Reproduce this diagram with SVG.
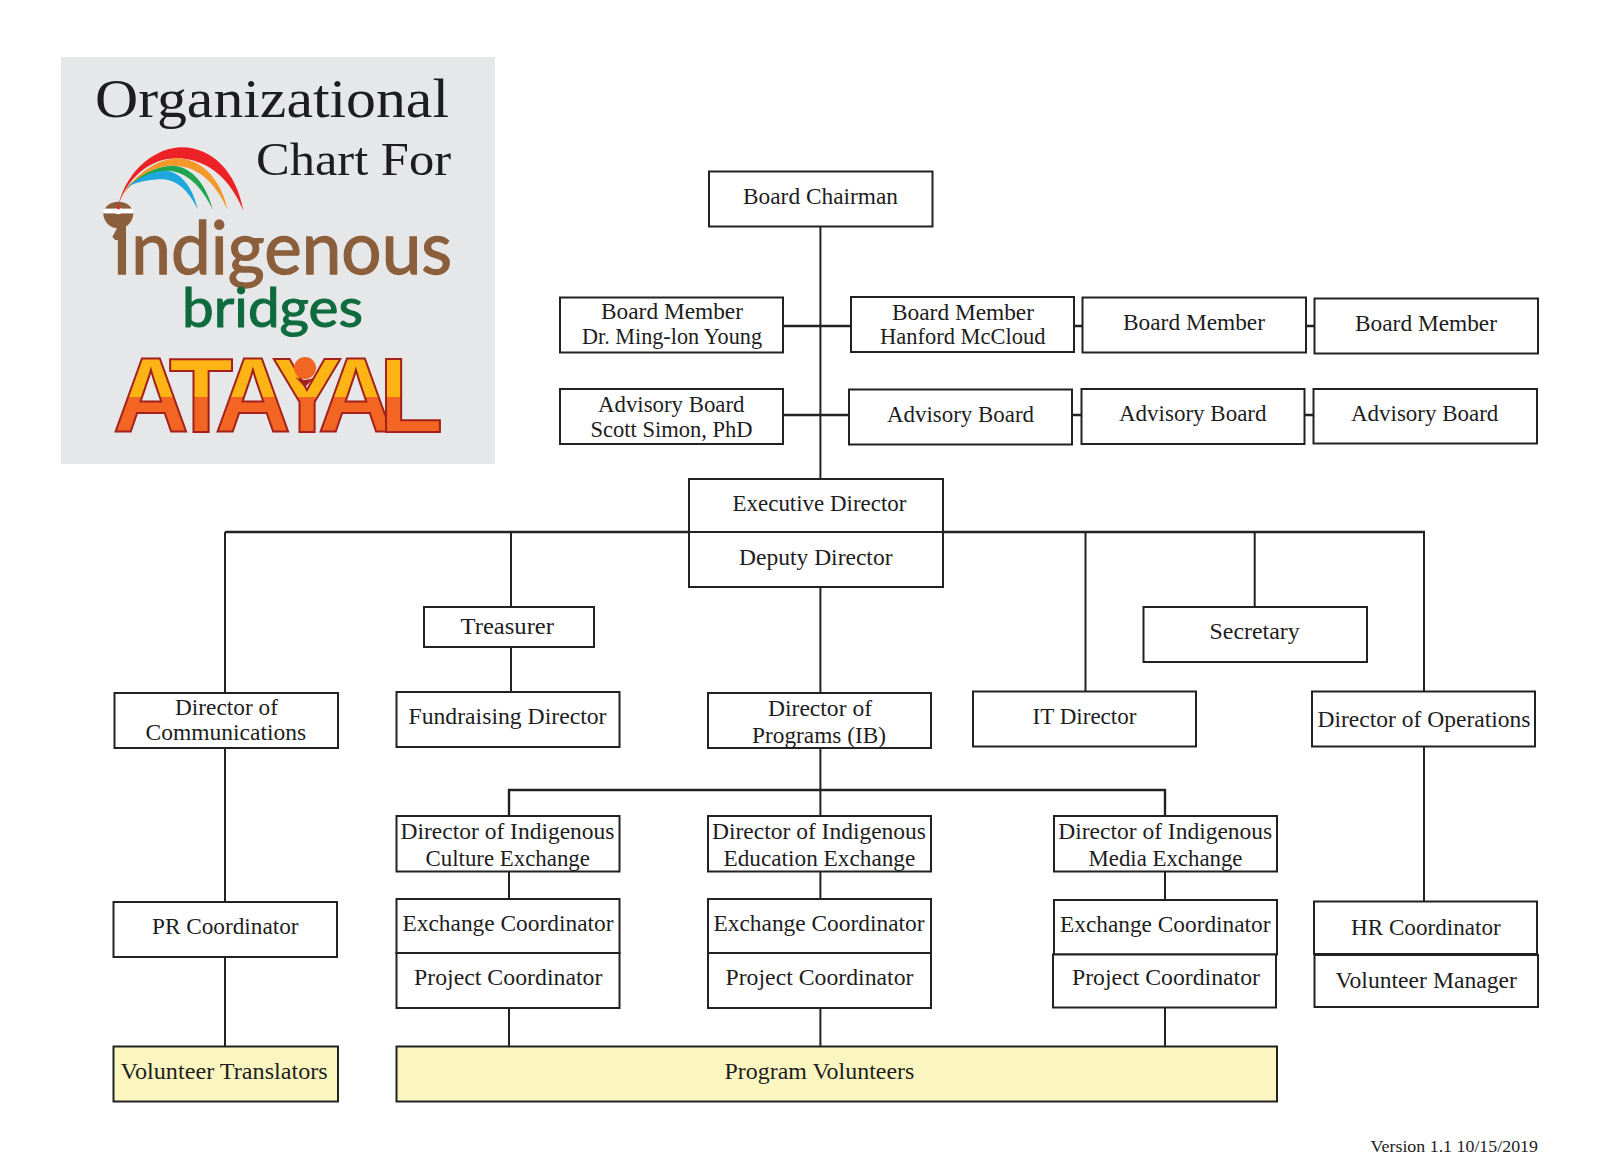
<svg xmlns="http://www.w3.org/2000/svg" width="1600" height="1162" viewBox="0 0 1600 1162">
<style>
.b{fill:#fff;stroke:#222;stroke-width:2}
.y{fill:#fbf6c0;stroke:#222;stroke-width:2}
.t{font-family:"Liberation Serif","Noto Serif",serif;font-size:22.5px;fill:#1d1d1d}
.c{fill:none;stroke:#222;stroke-width:2}
.h{fill:none;stroke:#222;stroke-width:2.4}
.title{font-family:"Liberation Serif",serif;font-size:55px;fill:#1d1d1f}
.logo{font-family:"Lato","Noto Sans",sans-serif}
</style>
<defs>
<linearGradient id="ata" gradientUnits="userSpaceOnUse" x1="0" y1="350" x2="0" y2="440">
<stop offset="0.52" stop-color="#fdb515"/><stop offset="0.52" stop-color="#f26522"/>
</linearGradient>
</defs>
<rect width="1600" height="1162" fill="#fff"/>
<g id="logo-panel">
<rect x="61" y="57" width="434" height="407" fill="#e6e7e9"/>
<text class="title" x="95" y="117" textLength="354" lengthAdjust="spacingAndGlyphs">Organizational</text>
<text class="title" x="256" y="175" style="font-size:46px" textLength="195" lengthAdjust="spacingAndGlyphs">Chart For</text>
<g transform="translate(50 50) scale(.33333)">
<path fill="#ed2227" d="M205 465C235 350 325 292 395 292C490 292 560 370 580 482C540 385 470 325 380 325C310 325 240 370 205 465Z"/>
<path fill="#f5982a" d="M215 440C260 365 330 325 385 325C460 328 515 395 533 480C500 405 450 350 375 347C320 345 260 375 215 440Z"/>
<path fill="#1fa54d" d="M225 420C265 375 320 347 370 347C425 350 470 405 488 478C455 410 410 365 355 362C310 362 265 385 225 420Z"/>
<path fill="#1ea6de" d="M235 408C270 380 310 362 350 362C395 368 430 415 443 478C415 420 380 390 340 388C300 388 265 395 235 408Z"/>
</g>
<text class="logo" x="112" y="274" font-size="74" fill="#8b5e3c" stroke="#8b5e3c" stroke-width="1.3" textLength="340" lengthAdjust="spacingAndGlyphs">Indigenous</text>
<g transform="translate(50 50) scale(.33333)">
<path fill="#8b5e3c" d="M160 490A45 45 0 0 0 250 490Z"/>
<path fill="#8b5e3c" d="M187 560Q195 548 205 525H222V570H195Z"/>
<path fill="#8b5e3c" d="M165 476C172 462 188 455 205 455C222 455 238 462 245 476Z"/>
<rect x="160" y="476" width="90" height="14" rx="5" fill="#fff"/>
<circle cx="205" cy="483" r="10" fill="#fff"/>
<path fill="#ed2227" d="M200 478L205 456L210 478Z"/>
</g>
<text class="logo" x="182" y="327" font-size="54" fill="#0e6b3d" stroke="#0e6b3d" stroke-width="1" textLength="181" lengthAdjust="spacingAndGlyphs">bridges</text>
<text x="113 169 215 272 318 379" y="432" font-family="Liberation Sans,sans-serif" font-size="105" font-weight="700" fill="url(#ata)" stroke="#a3201c" stroke-width="2">ATAYAL</text>
<circle cx="305" cy="368" r="11" fill="#f26522"/>
<path d="M295 377L305 387L315 377Q305 383 295 377Z" fill="#a3201c"/>
</g>
<g id="connectors">
<path class="c" d="M820.400 227V479"/>
<path class="h" d="M783 326H851M1074 326H1082.500M1306 326H1314M783 415H849M1072 415H1081M1304 415H1313"/>
<path class="h" d="M225 532H1425"/>
<path class="c" d="M225 532V693M511 532V607M820.400 587V693M1085.500 532V692M1254.700 532V607M1424 532V692"/>
<path class="c" d="M511 647V692M225 748V902M225 957V1046M820.400 748V816M1424 747V902"/>
<path class="h" d="M509 816V790H1165V817"/>
<path class="c" d="M509 872V899M820.400 872V899M1165 872V901M509 1008V1046M820.400 1008V1046M1165 1008V1046"/>
</g>
<g id="board-chairman"><rect class="b" x="709" y="171.500" width="223.500" height="55"/><text class="t" x="743" y="204" textLength="155" lengthAdjust="spacingAndGlyphs">Board Chairman</text></g>
<g id="board-member-1"><rect class="b" x="560" y="297.500" width="223" height="55"/><text class="t" x="601" y="319" textLength="142" lengthAdjust="spacingAndGlyphs">Board Member</text><text class="t" x="582" y="344" textLength="180" lengthAdjust="spacingAndGlyphs">Dr. Ming-lon Young</text></g>
<g id="board-member-2"><rect class="b" x="851" y="297" width="223" height="55"/><text class="t" x="892" y="319.500" textLength="142" lengthAdjust="spacingAndGlyphs">Board Member</text><text class="t" x="880" y="343.500" textLength="165.500" lengthAdjust="spacingAndGlyphs">Hanford McCloud</text></g>
<g id="board-member-3"><rect class="b" x="1082.500" y="297.500" width="223.500" height="55"/><text class="t" x="1123" y="330" textLength="142" lengthAdjust="spacingAndGlyphs">Board Member</text></g>
<g id="board-member-4"><rect class="b" x="1314.500" y="298.500" width="223.500" height="55"/><text class="t" x="1355" y="331" textLength="142" lengthAdjust="spacingAndGlyphs">Board Member</text></g>
<g id="advisory-1"><rect class="b" x="560" y="389" width="223" height="55"/><text class="t" x="598" y="412" textLength="146.500" lengthAdjust="spacingAndGlyphs">Advisory Board</text><text class="t" x="590.500" y="437" textLength="162" lengthAdjust="spacingAndGlyphs">Scott Simon, PhD</text></g>
<g id="advisory-2"><rect class="b" x="849" y="389.500" width="223" height="55"/><text class="t" x="887" y="421.700" textLength="147" lengthAdjust="spacingAndGlyphs">Advisory Board</text></g>
<g id="advisory-3"><rect class="b" x="1081.500" y="389" width="223" height="55"/><text class="t" x="1119" y="420.700" textLength="147.500" lengthAdjust="spacingAndGlyphs">Advisory Board</text></g>
<g id="advisory-4"><rect class="b" x="1313.500" y="389" width="223.500" height="54.500"/><text class="t" x="1351" y="420.700" textLength="147.300" lengthAdjust="spacingAndGlyphs">Advisory Board</text></g>
<g id="executive-director"><rect class="b" x="689" y="479" width="254" height="53"/><text class="t" x="732.500" y="511" textLength="174" lengthAdjust="spacingAndGlyphs">Executive Director</text></g>
<g id="deputy-director"><rect class="b" x="689" y="532" width="254" height="55"/><text class="t" x="739" y="565" textLength="153.500" lengthAdjust="spacingAndGlyphs">Deputy Director</text></g>
<g id="treasurer"><rect class="b" x="424" y="607" width="170" height="40"/><text class="t" x="460.500" y="634" textLength="93.500" lengthAdjust="spacingAndGlyphs">Treasurer</text></g>
<g id="secretary"><rect class="b" x="1143.500" y="607" width="223.500" height="55"/><text class="t" x="1209.500" y="639" textLength="90.200" lengthAdjust="spacingAndGlyphs">Secretary</text></g>
<g id="dir-communications"><rect class="b" x="114.500" y="693" width="223.500" height="55"/><text class="t" x="175" y="715" textLength="102.900" lengthAdjust="spacingAndGlyphs">Director of</text><text class="t" x="145.500" y="740" textLength="160.700" lengthAdjust="spacingAndGlyphs">Communications</text></g>
<g id="fundraising-director"><rect class="b" x="396.500" y="692" width="223" height="55"/><text class="t" x="408.500" y="724" textLength="198" lengthAdjust="spacingAndGlyphs">Fundraising Director</text></g>
<g id="dir-programs"><rect class="b" x="708" y="693" width="223" height="55"/><text class="t" x="768" y="715.700" textLength="104" lengthAdjust="spacingAndGlyphs">Director of</text><text class="t" x="752" y="742.700" textLength="134" lengthAdjust="spacingAndGlyphs">Programs (IB)</text></g>
<g id="it-director"><rect class="b" x="973" y="691.500" width="223" height="55"/><text class="t" x="1032.500" y="724" textLength="104" lengthAdjust="spacingAndGlyphs">IT Director</text></g>
<g id="dir-operations"><rect class="b" x="1312" y="691.500" width="223" height="55"/><text class="t" x="1317.500" y="727" textLength="213" lengthAdjust="spacingAndGlyphs">Director of Operations</text></g>
<g id="dir-culture"><rect class="b" x="396.500" y="816" width="223" height="55.500"/><text class="t" x="400.500" y="839" textLength="214" lengthAdjust="spacingAndGlyphs">Director of Indigenous</text><text class="t" x="425.500" y="865.700" textLength="164.400" lengthAdjust="spacingAndGlyphs">Culture Exchange</text></g>
<g id="dir-education"><rect class="b" x="708" y="816" width="223" height="55.500"/><text class="t" x="712" y="839" textLength="214" lengthAdjust="spacingAndGlyphs">Director of Indigenous</text><text class="t" x="723.500" y="865.700" textLength="191.800" lengthAdjust="spacingAndGlyphs">Education Exchange</text></g>
<g id="dir-media"><rect class="b" x="1054" y="816" width="223" height="55.500"/><text class="t" x="1058.300" y="839" textLength="213.900" lengthAdjust="spacingAndGlyphs">Director of Indigenous</text><text class="t" x="1088.500" y="865.700" textLength="154" lengthAdjust="spacingAndGlyphs">Media Exchange</text></g>
<g id="exchange-1"><rect class="b" x="396.500" y="899" width="223" height="54"/><text class="t" x="402.500" y="930.800" textLength="211" lengthAdjust="spacingAndGlyphs">Exchange Coordinator</text></g>
<g id="project-1"><rect class="b" x="396.500" y="953" width="223" height="55"/><text class="t" x="414" y="985" textLength="188.400" lengthAdjust="spacingAndGlyphs">Project Coordinator</text></g>
<g id="exchange-2"><rect class="b" x="708" y="899" width="223" height="54"/><text class="t" x="713.500" y="930.800" textLength="211" lengthAdjust="spacingAndGlyphs">Exchange Coordinator</text></g>
<g id="project-2"><rect class="b" x="708" y="953" width="223" height="55"/><text class="t" x="725.500" y="985" textLength="188" lengthAdjust="spacingAndGlyphs">Project Coordinator</text></g>
<g id="exchange-3"><rect class="b" x="1054" y="900" width="223" height="54.500"/><text class="t" x="1060" y="931.500" textLength="210.500" lengthAdjust="spacingAndGlyphs">Exchange Coordinator</text></g>
<g id="project-3"><rect class="b" x="1053" y="954.500" width="223" height="53"/><text class="t" x="1072" y="984.500" textLength="188" lengthAdjust="spacingAndGlyphs">Project Coordinator</text></g>
<g id="pr-coordinator"><rect class="b" x="113.500" y="902" width="223.500" height="55"/><text class="t" x="152" y="934" textLength="146.600" lengthAdjust="spacingAndGlyphs">PR Coordinator</text></g>
<g id="hr-coordinator"><rect class="b" x="1314" y="901.500" width="223" height="52.500"/><text class="t" x="1351" y="935" textLength="149.700" lengthAdjust="spacingAndGlyphs">HR Coordinator</text></g>
<g id="volunteer-manager"><rect class="b" x="1314.500" y="955" width="223.500" height="52"/><text class="t" x="1335.500" y="988" textLength="181.400" lengthAdjust="spacingAndGlyphs">Volunteer Manager</text></g>
<g id="volunteer-translators"><rect class="y" x="113.500" y="1046.500" width="224.500" height="55"/><text class="t" x="120.600" y="1079" textLength="207.200" lengthAdjust="spacingAndGlyphs">Volunteer Translators</text></g>
<g id="program-volunteers"><rect class="y" x="396.500" y="1046.500" width="880.500" height="55"/><text class="t" x="724.500" y="1079" textLength="189.800" lengthAdjust="spacingAndGlyphs">Program Volunteers</text></g>
<text x="1370.600" y="1152" font-family="Liberation Serif,serif" font-size="17" fill="#222" textLength="167.400" lengthAdjust="spacingAndGlyphs">Version 1.1 10/15/2019</text>
</svg>
